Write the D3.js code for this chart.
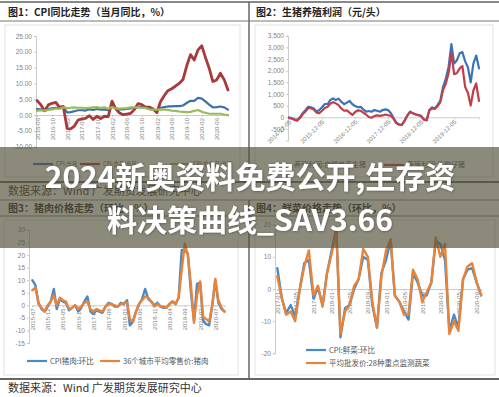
<!DOCTYPE html>
<html>
<head>
<meta charset="utf-8">
<script src="https://cdn.jsdelivr.net/npm/d3@7"></script>
<style>
  body { margin: 0; background: #fff; }
  svg { display: block; font-family: "Noto Sans CJK SC", "Noto Sans", sans-serif; }
</style>
</head>
<body>
<div id="chart"></div>
<script>
// ---- Data (monthly) ----
// Fig 1: CPI YoY, 2016-06 .. 2020-09
const cpiStart = new Date(2016, 5, 1);
const cpiHeadline = [1.9, 1.8, 1.3, 1.9, 2.1, 2.3, 2.1,
  2.5, 0.8, 0.9, 1.2, 1.5, 1.5, 1.4, 1.8, 1.6, 1.9, 1.7, 1.8,
  1.5, 2.9, 2.1, 1.8, 1.8, 1.9, 2.1, 2.3, 2.5, 2.5, 2.2, 1.9,
  1.7, 1.5, 2.3, 2.5, 2.7, 2.7, 2.8, 2.8, 3.0, 3.8, 4.5, 4.5,
  5.4, 5.2, 4.3, 3.3, 2.4, 2.5, 2.7, 2.4, 1.7];
const cpiFood = [4.6, 3.3, 1.3, 3.2, 3.7, 4.0, 2.4,
  2.7, -4.3, -4.4, -3.5, -1.6, -1.2, -1.1, -0.2, -1.4, -0.4, -1.1, -0.4,
  -0.5, 4.4, 2.1, 0.7, 0.1, 0.3, 0.5, 1.7, 3.6, 3.3, 2.5, 2.5,
  1.9, 0.7, 4.1, 6.1, 7.7, 8.3, 9.1, 10.0, 11.2, 15.5, 19.1, 17.4,
  20.6, 21.9, 18.3, 14.8, 10.6, 11.1, 13.2, 11.2, 7.9];
const cpiNonFood = [1.3, 1.5, 1.4, 1.6, 1.8, 2.0, 2.0,
  2.4, 2.2, 2.3, 2.4, 2.3, 2.3, 2.2, 2.3, 2.4, 2.5, 2.3, 2.4,
  2.0, 2.5, 2.1, 2.0, 2.1, 2.2, 2.4, 2.4, 2.4, 2.3, 2.2, 1.8,
  1.7, 1.7, 1.8, 1.7, 1.6, 1.4, 1.3, 1.1, 1.0, 0.9, 1.0, 1.3,
  1.6, 1.0, 0.7, 0.4, 0.4, 0.4, 0.4, 0.1, 0.0];
const cpiLabels = ['CPI:当月', 'CPI:食品:当月', 'CPI:非食品:当月'];

// Fig 2: hog farming profit (yuan/head), 2014-12 .. 2020-09
const profitStart = new Date(2014, 11, 5);
const profitSelf = [0,
  -40, -90, -120, 0, 170, 300, 450, 430, 380, 250, 310, 430,
  570, 570, 740, 810, 740, 800, 670, 560, 630, 700, 560, 480,
  430, 450, 340, 240, 270, 240, 310, 280, 240, 310, 340, 310,
  170, -40, -230, -300, -330, -140, 60, 240, 170, 130, 100, 60,
  -90, -120, 310, 430, 380, 530, 710, 1310, 1670, 2170, 3140, 2310,
  2450, 2750, 2800, 2400, 2150, 1500, 2300, 2650, 2100];
const profitBought = [-30,
  -60, -110, -150, -30, 130, 250, 400, 390, 330, 200, 180, 280,
  400, 450, 580, 650, 600, 520, 380, 280, 300, 200, 100, 230,
  300, 280, 200, 120, 10, -20, 50, 80, 60, 80, 120, 90,
  60, -80, -250, -320, -330, -150, 80, 230, 170, 120, 90, 50,
  -100, -130, 280, 380, 360, 480, 640, 1180, 1450, 1900, 2750, 1850,
  1900, 2100, 2200, 1300, 1050, 500, 1150, 1450, 700];
const profitLabels = ['养殖利润:自繁自养生猪', '养殖利润:外购仔猪'];

// Fig 3: pork price MoM %, 2015-07 .. 2020-10
const porkStart = new Date(2015, 6, 1);
const porkCpi = [10, 8, 1, -1.5, -2.5, -0.5,
  1.5, 6.5, -1.5, 2.5, 1.5, 1, -2, -1, 0, -2.5, -1, 1.5,
  3.5, -2.5, -3.5, -2, -2.5, -3, -0.5, 1, 0.5, -0.5, -0.5, 1,
  0.5, 2, -8, -6.5, -2.5, 0.5, 2.5, 6.5, 2.5, 1.5, 0, 1,
  -0.5, -1, -1, 0.5, 1.5, 0.5, 3, 22, 22, 20.5, 5, -6,
  8.5, 9, -6, -7.5, -8, 0, 10, 1, -1.5, -2.5];
const porkRetail = [6, 7, 0.5, -1, -2.5, 0,
  1.5, 4, 0, 3, 2, 1.5, -1.5, -1, 0, -1.5, -0.5, 1,
  1.5, -1.5, -2.5, -1.5, -2, -2.5, -0.5, 0.5, 0.5, 0, -0.5, 0.5,
  1, 1, -5.5, -6.5, -2.5, 0.5, 2, 3.5, 3, 1.5, -0.5, 0.5,
  -0.5, -0.5, -1, 0.5, 1.5, 0.5, 3, 14, 24.5, 20, 8, -7,
  4, 9.5, -4.5, -5.5, -6.5, 0, 10.5, 2, -1, -2.5];
const porkLabels = ['CPI猪肉:环比', '36个城市平均零售价:猪肉'];

// Fig 4: vegetable price MoM %, 2017-01 .. 2020-10
const vegStart = new Date(2017, 0, 1);
const vegCpi = [6.5, -3, -7.5, -5, -8.5, 0, 8, 9, -3, 0.5, -5, 5,
  12, 19, -15, -6, -5, 0, 3, 10, 9, -5, -12, 5,
  9, 15, -2, -4, -7, -9.5, 5, 2, -2, -2, 2, 15,
  14, 9, -13, -8, -12, 3, 6, 6.5, 2, -2];
const vegWholesale = [4, -3, -8, -7, -10, 0, 7, 12, -2, 1, -5.5, 5,
  11, 18, -14, -7, -5, 1, 3, 12.5, 10, -4, -12, 4,
  12, 15.5, -2, -4, -8, -8, 6, 3, -4, -1, 2, 16,
  10, 14, -14, -10, -13, 3, 7, 8, 2, -2];
const vegLabels = ['CPI:鲜菜:环比', '平均批发价:28种重点监测蔬菜'];

const titles = ['图1：CPI同比走势（当月同比，%）', '图2：生猪养殖利润（元/头）',
  '图3：猪肉价格走势（环比，%）', '图4：鲜菜价格走势（环比，%）'];
const sourceText = '数据来源：Wind 广发期货发展研究中心';
const bannerLines = ['2024新奥资料免费公开,生存资', '料决策曲线_SAV3.66'];

// ---- Setup ----
const W = 499, H = 397;
const svg = d3.select('#chart').append('svg')
  .attr('width', W).attr('height', H)
  .style('background', '#fff');

const monthly = (start, values) => values.map((v, i) => ({ date: d3.timeMonth.offset(start, i), value: v }));
const plain = f => d => f(d).replace('\u2212', '-');
const tickFont = '"Liberation Sans", Arial, sans-serif';

// ---- Frame: rules, panel boxes, titles ----
const frame = svg.append('g');
[[5, 25, 235, 152], [255, 25, 238, 152], [4, 220, 234, 155], [255, 220, 240, 155]].forEach(b => {
  frame.append('rect').attr('x', b[0]).attr('y', b[1]).attr('width', b[2]).attr('height', b[3])
    .attr('fill', 'none').attr('stroke', '#d9d9d9').attr('stroke-width', 0.8);
});
[[2, 2, '#888'], [21, 1, '#777'], [182, 1.8, '#666'], [200, 1, '#888'], [216, 1, '#777'], [379, 1.8, '#666']]
  .forEach(r => frame.append('line').attr('x1', 0).attr('x2', W).attr('y1', r[0]).attr('y2', r[0])
    .attr('stroke', r[2]).attr('stroke-width', r[1]));
[[2, 182], [200, 379]].forEach(s => frame.append('line').attr('x1', 249).attr('x2', 249)
  .attr('y1', s[0]).attr('y2', s[1]).attr('stroke', '#666').attr('stroke-width', 1.5));

[[8, 16], [256, 16], [8, 212], [256, 212]].forEach((p, i) => {
  frame.append('text').attr('x', p[0]).attr('y', p[1]).attr('font-size', 10).attr('font-weight', 700)
    .attr('fill', '#222').text(titles[i]);
});
[195, 392].forEach(yy => frame.append('text').attr('x', 8).attr('y', yy).attr('font-size', 11)
  .attr('fill', '#333').text(sourceText));

// ---- Generic line chart ----
function drawChart(cfg) {
  const x = d3.scaleTime().domain(cfg.xDomain).range(cfg.xRange);
  const y = d3.scaleLinear().domain(cfg.yDomain).range(cfg.yRange);
  const g = svg.append('g');

  const yAxis = g.append('g').attr('transform', `translate(${cfg.yAxisX},0)`)
    .call(d3.axisLeft(y).tickValues(cfg.yTicks).tickFormat(cfg.yFormat).tickSize(2).tickPadding(2));
  yAxis.selectAll('text').attr('font-family', tickFont).attr('font-size', 6.5).attr('fill', '#7f7f7f');

  const xAxis = g.append('g').attr('transform', `translate(0,${y(0)})`)
    .call(d3.axisBottom(x).tickValues(cfg.xTicks).tickFormat(cfg.xFormat).tickSize(2).tickPadding(2));
  const xt = xAxis.selectAll('text').attr('font-family', tickFont).attr('font-size', 6).attr('fill', '#7f7f7f')
    .attr('text-anchor', 'end').attr('y', 0).attr('dy', '0.35em');
  if (cfg.rotate === -90) xt.attr('x', -3).attr('transform', 'rotate(-90)');
  else xt.attr('x', -2).attr('y', 3).attr('transform', `rotate(${cfg.rotate})`);

  g.selectAll('.domain, .tick line').attr('stroke', '#bfbfbf').attr('stroke-width', 0.8);

  const line = d3.line().x(d => x(d.date)).y(d => y(d.value));
  cfg.series.forEach(s => {
    g.append('path').datum(s.data).attr('d', line).attr('fill', 'none')
      .attr('stroke', s.color).attr('stroke-width', s.width)
      .attr('stroke-linejoin', 'round').attr('stroke-linecap', 'round');
  });

  cfg.legend.forEach(l => {
    g.append('line').attr('x1', l.x).attr('x2', l.x + 20).attr('y1', l.y).attr('y2', l.y)
      .attr('stroke', l.color).attr('stroke-width', 2.2);
    g.append('text').attr('x', l.x + 23).attr('y', l.y).attr('dy', '0.35em')
      .attr('font-size', l.size).attr('fill', '#555').text(l.text);
  });
}

// Fig 1
const c1 = { blue: '#3d6fae', red: '#a93a3c', green: '#9bbb59' };
drawChart({
  xDomain: [cpiStart, d3.timeMonth.offset(cpiStart, cpiHeadline.length - 1)], xRange: [37, 228],
  yDomain: [-10, 25], yRange: [146.6, 36], yAxisX: 36,
  yTicks: d3.range(-10, 26, 5), yFormat: plain(d3.format('.2f')),
  xTicks: d3.range(0, cpiHeadline.length, 4).map(i => d3.timeMonth.offset(cpiStart, i)),
  xFormat: d3.timeFormat('%Y-%m'), rotate: -90,
  series: [
    { data: monthly(cpiStart, cpiHeadline), color: c1.blue, width: 2.2 },
    { data: monthly(cpiStart, cpiFood), color: c1.red, width: 2.8 },
    { data: monthly(cpiStart, cpiNonFood), color: c1.green, width: 2.2 }
  ],
  legend: [
    { x: 33, y: 164, color: c1.blue, text: cpiLabels[0], size: 5.5 },
    { x: 80, y: 164, color: c1.red, text: cpiLabels[1], size: 5.5 },
    { x: 170, y: 164, color: c1.green, text: cpiLabels[2], size: 5.5 }
  ]
});

// Fig 2
drawChart({
  xDomain: [profitStart, d3.timeMonth.offset(profitStart, profitSelf.length - 1)], xRange: [289, 479],
  yDomain: [-1000, 3500], yRange: [140.6, 35.7], yAxisX: 288,
  yTicks: d3.range(-500, 3501, 500), yFormat: plain(d3.format(',')),
  xTicks: d3.range(0, 6).map(k => new Date(2014 + k, 11, 5)),
  xFormat: d3.timeFormat('%Y-%m-%d'), rotate: -45,
  series: [
    { data: monthly(profitStart, profitSelf), color: '#3b73b9', width: 2.2 },
    { data: monthly(profitStart, profitBought), color: '#c0404a', width: 2.2 }
  ],
  legend: [
    { x: 271, y: 165, color: '#3b73b9', text: profitLabels[0], size: 7 },
    { x: 384, y: 165, color: '#c0404a', text: profitLabels[1], size: 7 }
  ]
});

// Fig 3
const c3 = { blue: '#4a8ac4', orange: '#e8833a' };
drawChart({
  xDomain: [porkStart, d3.timeMonth.offset(porkStart, porkCpi.length - 1)], xRange: [32.3, 224.5],
  yDomain: [-15, 30], yRange: [343, 229.9], yAxisX: 29,
  yTicks: d3.range(-15, 31, 5), yFormat: plain(d3.format('d')),
  xTicks: d3.range(0, porkCpi.length, 5).map(i => d3.timeMonth.offset(porkStart, i)),
  xFormat: d3.timeFormat('%Y-%m'), rotate: -90,
  series: [
    { data: monthly(porkStart, porkCpi), color: c3.blue, width: 2.4 },
    { data: monthly(porkStart, porkRetail), color: c3.orange, width: 2.4 }
  ],
  legend: [
    { x: 27, y: 361, color: c3.blue, text: porkLabels[0], size: 7.5 },
    { x: 100, y: 361, color: c3.orange, text: porkLabels[1], size: 7.5 }
  ]
});

// Fig 4
drawChart({
  xDomain: [vegStart, d3.timeMonth.offset(vegStart, vegCpi.length - 1)], xRange: [277.3, 481.2],
  yDomain: [-20, 20], yRange: [353.3, 224.7], yAxisX: 275,
  yTicks: d3.range(-20, 21, 10), yFormat: plain(d3.format('d')),
  xTicks: d3.range(0, vegCpi.length, 4).map(i => d3.timeMonth.offset(vegStart, i)),
  xFormat: d3.timeFormat('%Y-%m'), rotate: -90,
  series: [
    { data: monthly(vegStart, vegCpi), color: c3.blue, width: 2.4 },
    { data: monthly(vegStart, vegWholesale), color: c3.orange, width: 2.4 }
  ],
  legend: [
    { x: 306, y: 350, color: c3.blue, text: vegLabels[0], size: 7.5 },
    { x: 306, y: 363, color: c3.orange, text: vegLabels[1], size: 7.5 }
  ]
});

// ---- Banner overlay ----
const defs = svg.append('defs');
defs.append('filter').attr('id', 'txt-shadow')
  .append('feDropShadow').attr('dx', 0.5).attr('dy', 0.5).attr('stdDeviation', 0.8)
  .attr('flood-color', '#333').attr('flood-opacity', 0.6);

svg.append('rect').attr('x', 0).attr('y', 147).attr('width', W).attr('height', 101)
  .attr('fill', 'rgb(85,83,60)').attr('fill-opacity', 0.68);

const banner = svg.append('g').attr('filter', 'url(#txt-shadow)');
[[188, bannerLines[0]], [231, bannerLines[1]]].forEach(b => {
  banner.append('text').attr('x', 250).attr('y', b[0]).attr('text-anchor', 'middle')
    .attr('font-size', 30).attr('font-weight', 700).attr('fill', '#fff').text(b[1]);
});
</script>
</body>
</html>
